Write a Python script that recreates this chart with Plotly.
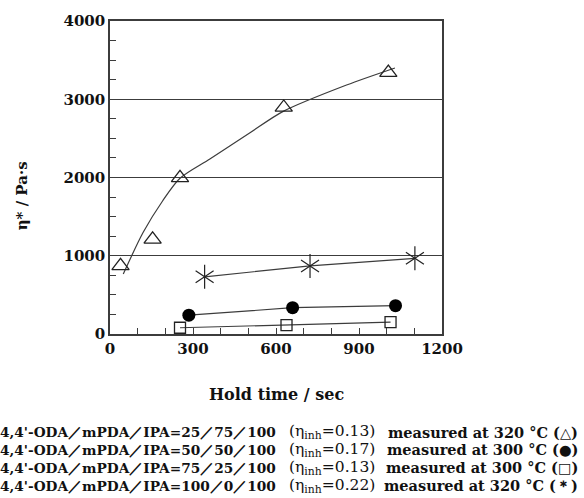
import plotly.graph_objects as go

# ---- data ----
tri_x = [38, 154, 253, 628, 1006]
tri_y = [870, 1210, 1995, 2895, 3340]
fit_x = [48, 120, 190, 253, 361, 506, 626, 855, 1030]
fit_y = [767, 1300, 1700, 1990, 2236, 2572, 2845, 3182, 3400]
circ_x = [285, 660, 1032]
circ_y = [240, 336, 362]
sq_x = [253, 638, 1014]
sq_y = [80, 113, 151]
star_x = [342, 723, 1102]
star_y = [731, 870, 967]

x_ticks = [0, 300, 600, 900, 1200]
y_ticks = [0, 1000, 2000, 3000, 4000]

legend_left = ["4,4'-ODA／mPDA／IPA=25／75／100",
               "4,4'-ODA／mPDA／IPA=50／50／100",
               "4,4'-ODA／mPDA／IPA=75／25／100",
               "4,4'-ODA／mPDA／IPA=100／0／100"]
legend_eta = ["0.13", "0.17", "0.13", "0.22"]
legend_temp = ["320", "300", "300", "320"]
legend_sym = ["△", "●", "□", "＊"]

W, H = 584, 498
L, R, T, B = 110, 142, 18, 164
pw = W - L - R
ph = H - T - B

def px(x):
    return (x - L) / pw

def py(y):
    return (H - B - y) / ph

FONT = "DejaVu Serif"
LINE = "#3c3c3c"

fig = go.Figure()

fig.add_trace(go.Scatter(x=fit_x, y=fit_y, mode="lines",
                         line=dict(color=LINE, width=1.2, shape="spline", smoothing=0.8),
                         showlegend=False, hoverinfo="skip"))
fig.add_trace(go.Scatter(x=tri_x, y=tri_y, mode="markers",
                         marker=dict(symbol="triangle-up-open", size=15, color="#222", line=dict(width=1.3)),
                         showlegend=False))
fig.add_trace(go.Scatter(x=circ_x, y=circ_y, mode="lines+markers", line=dict(color=LINE, width=1.2),
                         marker=dict(symbol="circle", size=13, color="#000"), showlegend=False))
fig.add_trace(go.Scatter(x=sq_x, y=sq_y, mode="lines+markers", line=dict(color=LINE, width=1.2),
                         marker=dict(symbol="square-open", size=11, color="#222", line=dict(width=1.3)),
                         showlegend=False))
fig.add_trace(go.Scatter(x=star_x, y=star_y, mode="lines+markers", line=dict(color=LINE, width=1.2),
                         marker=dict(symbol="y-up-open", size=15, color="#222", line=dict(width=1.2)),
                         showlegend=False))
fig.add_trace(go.Scatter(x=star_x, y=star_y, mode="markers",
                         marker=dict(symbol="y-down-open", size=15, color="#222", line=dict(width=1.2)),
                         showlegend=False))

fig.update_xaxes(range=[0, 1200], tickvals=x_ticks, ticks="inside", ticklen=6, tickcolor=LINE,
                 minor=dict(dtick=100, ticks="inside", ticklen=6, tickcolor=LINE),
                 showgrid=False, zeroline=False, showline=True, linecolor=LINE, linewidth=1.5, mirror=True,
                 tickfont=dict(family=FONT, size=15, color="#111", weight="bold"))
fig.update_yaxes(range=[0, 4000], tickvals=y_ticks, ticks="inside", ticklen=6, tickcolor=LINE,
                 minor=dict(dtick=250, ticks="inside", ticklen=6, tickcolor=LINE),
                 showgrid=True, gridcolor=LINE, gridwidth=1.3, zeroline=False,
                 showline=True, linecolor=LINE, linewidth=1.5, mirror=True,
                 tickfont=dict(family=FONT, size=15, color="#111", weight="bold"))

ann = []
ann.append(dict(text="Hold time / sec", x=px(276), y=py(395), xref="paper", yref="paper",
                xanchor="center", yanchor="middle",
                showarrow=False, font=dict(family=FONT, size=16, color="#111", weight="bold")))
ann.append(dict(text="η* / Pa·s", x=px(22), y=py(195), xref="paper", yref="paper", textangle=-90,
                xanchor="center", yanchor="middle",
                showarrow=False, font=dict(family=FONT, size=15, color="#111", weight="bold")))
rows = [433, 451, 469, 487]
for i in range(4):
    yy = py(rows[i])
    ann.append(dict(text=legend_left[i], x=px(278), y=yy, xref="paper", yref="paper",
                    xanchor="right", yanchor="middle",
                    showarrow=False, font=dict(family=FONT, size=13.7, color="#111", weight="bold")))
    ann.append(dict(text="(η<sub>inh</sub>=" + legend_eta[i] + ")", x=px(287), y=yy, xref="paper", yref="paper",
                    xanchor="left", yanchor="middle", showarrow=False,
                    font=dict(family=FONT, size=15.5, color="#111")))
    ann.append(dict(text="measured at " + legend_temp[i] + " °C (" + legend_sym[i] + ")", x=px(580), y=yy,
                    xref="paper", yref="paper", xanchor="right", yanchor="middle", showarrow=False,
                    font=dict(family=FONT, size=14.5, color="#111", weight="bold")))

fig.update_layout(width=W, height=H, margin=dict(l=L, r=R, t=T, b=B), plot_bgcolor="white",
                  paper_bgcolor="white", annotations=ann, showlegend=False)

fig.write_html("out.html", config={"displayModeBar": False},
               post_script="document.body.style.margin='0';document.body.style.padding='0';")
